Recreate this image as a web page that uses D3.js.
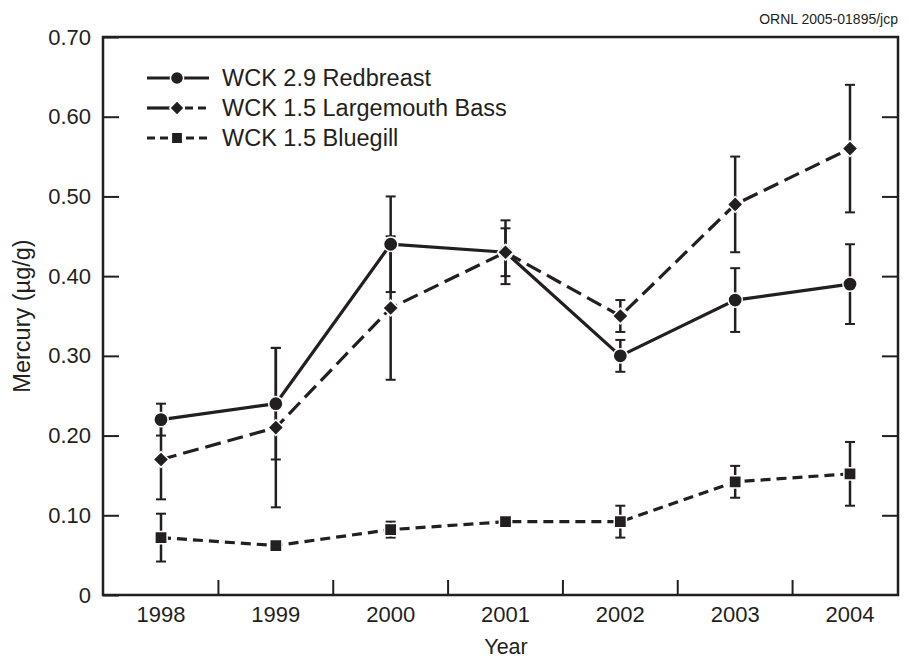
<!DOCTYPE html>
<html>
<head>
<meta charset="utf-8">
<script src="https://cdn.jsdelivr.net/npm/d3@7"></script>
<style>
  body { margin: 0; background: #fff; }
  svg text { font-family: "Liberation Sans", Arial, sans-serif; fill: #231f20; }
</style>
</head>
<body>
<svg id="chart" width="909" height="660"></svg>
<script>
// Data
var years = [1998, 1999, 2000, 2001, 2002, 2003, 2004];
var redbreast = [0.22, 0.24, 0.44, 0.43, 0.30, 0.37, 0.39];
var redbreastErr = [0.02, 0.07, 0.06, 0.04, 0.02, 0.04, 0.05];
var bass = [0.17, 0.21, 0.36, 0.43, 0.35, 0.49, 0.56];
var bassErr = [0.05, 0.10, 0.09, 0.03, 0.02, 0.06, 0.08];
var bluegill = [0.072, 0.062, 0.082, 0.092, 0.092, 0.142, 0.152];
var bluegillErr = [0.03, 0.004, 0.01, 0.004, 0.02, 0.02, 0.04];
var yTicks = [0, 0.1, 0.2, 0.3, 0.4, 0.5, 0.6, 0.7];
var seriesNames = ["WCK 2.9 Redbreast", "WCK 1.5 Largemouth Bass", "WCK 1.5 Bluegill"];

var ink = "#231f20";
var svg = d3.select("#chart");
var plotL = 103, plotR = 898, plotT = 37, plotB = 595;

var x = d3.scaleLinear().domain([1998, 2004]).range([161, 850]);
var y = d3.scaleLinear().domain([0, 0.7]).range([plotB, plotT]);

// Frame
svg.append("rect")
    .attr("x", plotL).attr("y", plotT)
    .attr("width", plotR - plotL).attr("height", plotB - plotT)
    .attr("fill", "none").attr("stroke", ink).attr("stroke-width", 2.5);

// Y ticks (inward on both sides)
var yAxisL = d3.axisLeft(y).tickValues(yTicks).tickSizeInner(-16).tickSizeOuter(0)
    .tickFormat(function (d) { return d === 0 ? "0" : d3.format(".2f")(d); });
var gy = svg.append("g").attr("transform", "translate(" + plotL + ",0)").call(yAxisL);
gy.select(".domain").remove();
gy.selectAll("line").attr("stroke", ink).attr("stroke-width", 2);
gy.selectAll("text").attr("font-size", 22).attr("x", -12).attr("font-family", null);

var yAxisR = d3.axisRight(y).tickValues(yTicks.slice(1, 7)).tickSizeInner(-16).tickSizeOuter(0).tickFormat("");
var gyr = svg.append("g").attr("transform", "translate(" + plotR + ",0)").call(yAxisR);
gyr.select(".domain").remove();
gyr.selectAll("line").attr("stroke", ink).attr("stroke-width", 2);

// X ticks between years, labels at years
var between = years.slice(0, -1).map(function (d) { return d + 0.5; });
var gx = svg.append("g").attr("transform", "translate(0," + plotB + ")");
gx.selectAll("line").data(between).enter().append("line")
    .attr("x1", function (d) { return x(d); }).attr("x2", function (d) { return x(d); })
    .attr("y1", 0).attr("y2", -15)
    .attr("stroke", ink).attr("stroke-width", 2);
gx.selectAll("text").data(years).enter().append("text")
    .attr("x", function (d) { return x(d); })
    .attr("y", 27)
    .attr("text-anchor", "middle")
    .attr("font-size", 22)
    .text(function (d) { return d; });

// Axis titles
svg.append("text")
    .attr("transform", "translate(30,316) rotate(-90)")
    .attr("text-anchor", "middle")
    .attr("font-size", 23.5)
    .text("Mercury (µg/g)");
svg.append("text")
    .attr("x", 506).attr("y", 654)
    .attr("text-anchor", "middle")
    .attr("font-size", 21.5)
    .text("Year");
svg.append("text")
    .attr("x", 898).attr("y", 24)
    .attr("text-anchor", "end")
    .attr("font-size", 14)
    .text("ORNL 2005-01895/jcp");

var series = [
    { vals: redbreast, err: redbreastErr, dash: null, shape: d3.symbolCircle, size: 160, rot: 0 },
    { vals: bass, err: bassErr, dash: "16,7", shape: d3.symbolSquare, size: 125, rot: 45 },
    { vals: bluegill, err: bluegillErr, dash: "10,6", shape: d3.symbolSquare, size: 150, rot: 0 }
];

var line = d3.line()
    .x(function (d, i) { return x(years[i]); })
    .y(function (d) { return y(d); });

// Error bars
series.forEach(function (s) {
    var g = svg.append("g");
    g.selectAll("line.bar").data(s.vals).enter().append("line")
        .attr("x1", function (d, i) { return x(years[i]); })
        .attr("x2", function (d, i) { return x(years[i]); })
        .attr("y1", function (d, i) { return y(d - s.err[i]); })
        .attr("y2", function (d, i) { return y(d + s.err[i]); })
        .attr("stroke", ink).attr("stroke-width", 2.5);
    [-1, 1].forEach(function (sign) {
        g.selectAll("line.cap" + sign).data(s.vals).enter().append("line")
            .attr("x1", function (d, i) { return x(years[i]) - 5; })
            .attr("x2", function (d, i) { return x(years[i]) + 5; })
            .attr("y1", function (d, i) { return y(d + sign * s.err[i]); })
            .attr("y2", function (d, i) { return y(d + sign * s.err[i]); })
            .attr("stroke", ink).attr("stroke-width", 2);
    });
});

// Lines and markers
series.forEach(function (s) {
    svg.append("path")
        .datum(s.vals)
        .attr("d", line)
        .attr("fill", "none")
        .attr("stroke", ink)
        .attr("stroke-width", 3.2)
        .attr("stroke-dasharray", s.dash);
});
series.forEach(function (s) {
    svg.append("g").selectAll("path").data(s.vals).enter().append("path")
        .attr("transform", function (d, i) {
            return "translate(" + x(years[i]) + "," + y(d) + ") rotate(" + s.rot + ")";
        })
        .attr("d", d3.symbol().type(s.shape).size(s.size))
        .attr("fill", ink)
        .attr("stroke", "#fff").attr("stroke-width", 1.5);
});

// Legend
var legendY = [78, 108, 138];
var lg = svg.append("g");
series.forEach(function (s, i) {
    var ly = legendY[i];
    if (i === 0) {
        lg.append("line").attr("x1", 147).attr("x2", 209).attr("y1", ly).attr("y2", ly)
            .attr("stroke", ink).attr("stroke-width", 3.2);
    } else if (i === 1) {
        lg.append("line").attr("x1", 147).attr("x2", 170).attr("y1", ly).attr("y2", ly)
            .attr("stroke", ink).attr("stroke-width", 3.2);
        lg.append("line").attr("x1", 185).attr("x2", 209).attr("y1", ly).attr("y2", ly)
            .attr("stroke", ink).attr("stroke-width", 3.2).attr("stroke-dasharray", "8,5");
    } else {
        lg.append("line").attr("x1", 147).attr("x2", 209).attr("y1", ly).attr("y2", ly)
            .attr("stroke", ink).attr("stroke-width", 3.2).attr("stroke-dasharray", "8,5");
    }
    lg.append("path")
        .attr("transform", "translate(177," + ly + ") rotate(" + s.rot + ")")
        .attr("d", d3.symbol().type(s.shape).size(s.size * 0.85))
        .attr("fill", ink).attr("stroke", "#fff").attr("stroke-width", 1.5);
    lg.append("text")
        .attr("x", 222).attr("y", ly + 8)
        .attr("font-size", 23.5)
        .text(seriesNames[i]);
});
</script>
</body>
</html>
